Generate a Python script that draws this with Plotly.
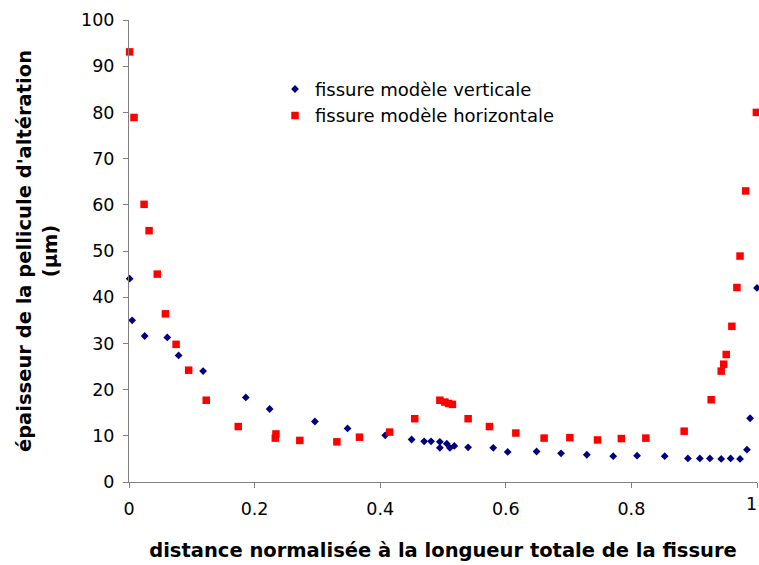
import plotly.graph_objects as go

# Vertical model crack: normalised distance vs alteration-layer thickness (µm)
vert_x = [0.001, 0.005, 0.025, 0.061, 0.079, 0.118, 0.186, 0.224, 0.296, 0.348,
          0.408, 0.450, 0.470, 0.481, 0.495, 0.495, 0.506, 0.511, 0.518, 0.540,
          0.580, 0.603, 0.649, 0.688, 0.729, 0.771, 0.809, 0.853, 0.890, 0.909,
          0.925, 0.943, 0.958, 0.973, 0.984, 0.989, 1.000]
vert_y = [44.0, 35.0, 31.6, 31.3, 27.4, 24.0, 18.3, 15.8, 13.1, 11.6,
          10.1, 9.2, 8.8, 8.8, 8.7, 7.4, 8.3, 7.4, 7.8, 7.5,
          7.4, 6.5, 6.6, 6.2, 5.9, 5.6, 5.7, 5.6, 5.1, 5.1,
          5.1, 5.0, 5.1, 5.0, 7.0, 13.8, 42.0]

# Horizontal model crack
horiz_x = [0.001, 0.008, 0.024, 0.032, 0.045, 0.058, 0.075, 0.095, 0.123, 0.174,
           0.234, 0.233, 0.272, 0.331, 0.367, 0.415, 0.455, 0.495, 0.503, 0.509,
           0.515, 0.540, 0.574, 0.616, 0.661, 0.702, 0.746, 0.784, 0.823, 0.884,
           0.927, 0.943, 0.947, 0.951, 0.960, 0.968, 0.973, 0.982, 0.999]
horiz_y = [93.1, 78.9, 60.1, 54.4, 45.0, 36.4, 29.8, 24.2, 17.7, 12.0,
           10.4, 9.5, 9.0, 8.7, 9.7, 10.8, 13.7, 17.7, 17.3, 17.0,
           16.8, 13.7, 12.0, 10.6, 9.5, 9.6, 9.1, 9.4, 9.5, 11.0,
           17.8, 24.0, 25.5, 27.6, 33.7, 42.1, 48.9, 63.0, 80.0]

x_ticks = [0, 0.2, 0.4, 0.6, 0.8, 1]
x_tick_text = ["0", "0.2", "0.4", "0.6", "0.8", "1"]
y_ticks = [0, 10, 20, 30, 40, 50, 60, 70, 80, 90, 100]

FONT = "DejaVu Sans, Liberation Sans, Arial, sans-serif"
TICK_SIZE = 17.5

fig = go.Figure()
fig.add_trace(go.Scatter(
    x=vert_x, y=vert_y, mode="markers", name="fissure modèle verticale",
    marker=dict(symbol="diamond", size=6, color="#000080"),
    cliponaxis=False,
))
fig.add_trace(go.Scatter(
    x=horiz_x, y=horiz_y, mode="markers", name="fissure modèle horizontale",
    marker=dict(symbol="square", size=7.5, color="#FF0000"),
    cliponaxis=False,
))

axis_common = dict(
    showgrid=False, zeroline=False, showline=True, linecolor="#808080",
    linewidth=1, ticks="outside", ticklen=5, tickcolor="#808080",
    tickfont=dict(family=FONT, size=TICK_SIZE, color="#000000"),
    automargin=False,
)

# The last x label sits at the figure's right edge; it is drawn right-aligned
# on its tick so that it stays inside the page.
axis_x_labels = x_tick_text[:-1] + [""]
fig.add_annotation(
    x=x_ticks[-1], y=0, xref="x", yref="paper",
    text=x_tick_text[-1], showarrow=False,
    xanchor="right", yanchor="top", xshift=2, yshift=-10,
    font=dict(family=FONT, size=TICK_SIZE, color="#000000"),
)

fig.update_layout(
    width=759, height=565,
    margin=dict(l=129, r=2, t=20, b=83),
    paper_bgcolor="white", plot_bgcolor="white",
    font=dict(family=FONT, color="#000000"),
    showlegend=True,
    legend=dict(
        x=0.2325, y=0.89, xanchor="left", yanchor="top",
        bgcolor="rgba(0,0,0,0)", borderwidth=0,
        font=dict(family=FONT, size=18, color="#000000"),
        itemsizing="trace", tracegroupgap=4,
    ),
    xaxis=dict(
        range=[0, 1], tickvals=x_ticks, ticktext=axis_x_labels,
        ticklabelstandoff=6,
        title=dict(text="<b>distance normalisée à la longueur totale de la fissure</b>",
                   font=dict(family=FONT, size=19.5), standoff=25),
        **axis_common,
    ),
    yaxis=dict(
        range=[0, 100], tickvals=y_ticks,
        ticklabelstandoff=5,
        title=dict(text="<b>épaisseur de la pellicule d'altération<br>(µm)</b>",
                   font=dict(family=FONT, size=19.5), standoff=18),
        **axis_common,
    ),
)

fig.write_html("out.html")
